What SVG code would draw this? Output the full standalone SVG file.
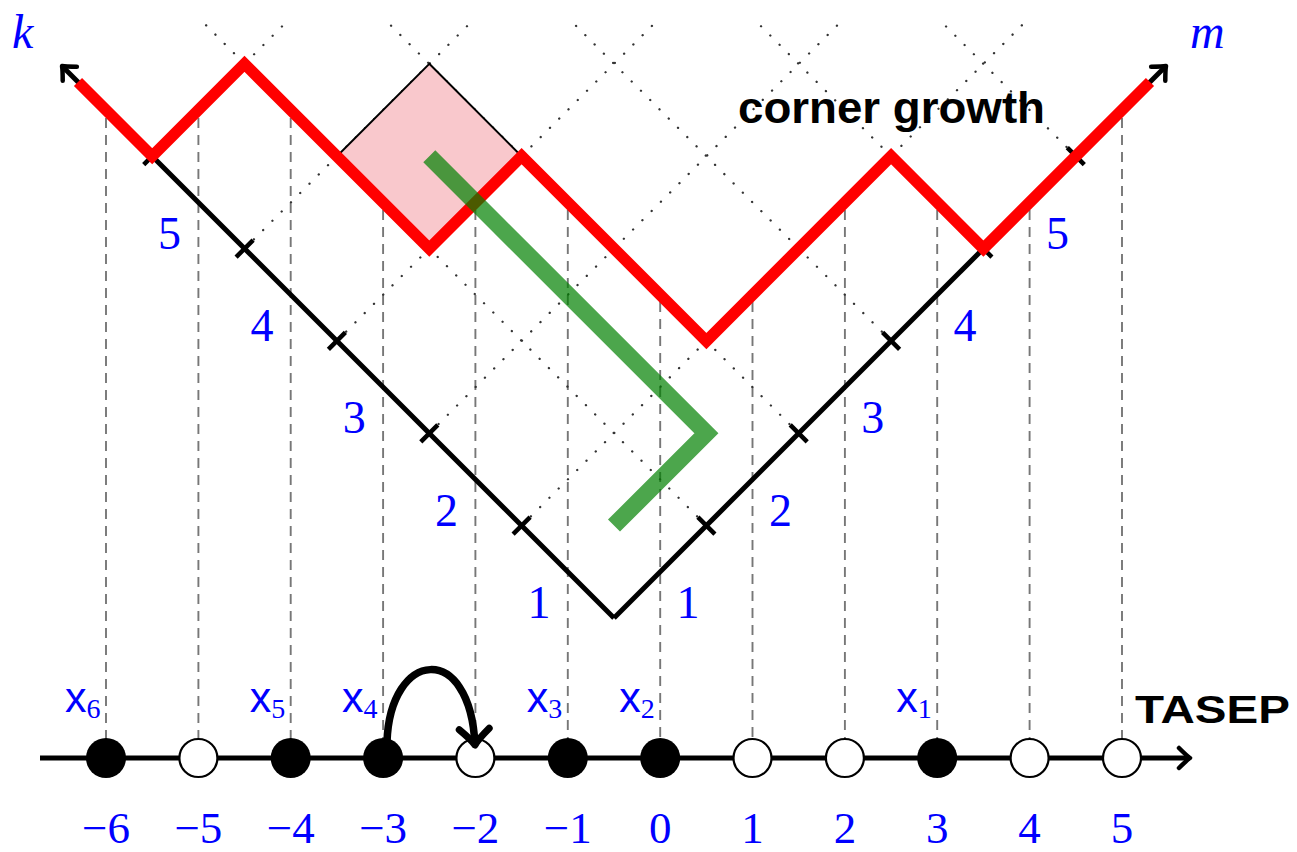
<svg xmlns="http://www.w3.org/2000/svg" width="1297" height="852" viewBox="0 0 1297 852">
<style>
.dash{stroke:#777;stroke-width:1.9;stroke-dasharray:10 7;fill:none}
.dot{stroke:#333;stroke-width:2.3;stroke-dasharray:0.1 13;stroke-linecap:round;fill:none}
.arm{stroke:#000;stroke-width:5;fill:none}
.tick{stroke:#000;stroke-width:4.5;fill:none}
.num{font-family:"Liberation Serif","DejaVu Serif",serif;font-size:46px;fill:#0000ff;text-anchor:middle}
.bnum{font-family:"Liberation Serif","DejaVu Serif",serif;font-size:45px;fill:#0000ff;text-anchor:middle}
.xl{font-family:"Liberation Sans",Arial,sans-serif;font-size:43px;fill:#0000ff}
.sub{font-family:"Liberation Serif","DejaVu Serif",serif;font-size:28px}
.var{font-family:"Liberation Serif","DejaVu Serif",serif;font-style:italic;font-size:48px;fill:#0000ff}
.bold{font-family:"Liberation Sans",Arial,sans-serif;font-weight:bold;fill:#000}
.full{fill:#000}
.empty{fill:#fff;stroke:#000;stroke-width:2.2}
</style>
<defs>
<marker id="ah" viewBox="-16 -16 32 32" markerWidth="32" markerHeight="32" refX="0" refY="0" orient="auto" markerUnits="userSpaceOnUse">
<path d="M-11,-10 Q-3,-2 0,0 Q-3,2 -11,10" fill="none" stroke="#000" stroke-width="4.5" stroke-linecap="round" stroke-linejoin="round"/>
</marker>
<marker id="ah2" viewBox="-24 -24 48 48" markerWidth="48" markerHeight="48" refX="0" refY="0" orient="auto" markerUnits="userSpaceOnUse">
<path d="M-16,-15 Q-5,-3 0,0 Q-5,3 -16,15" fill="none" stroke="#000" stroke-width="7" stroke-linecap="round" stroke-linejoin="round"/>
</marker>
</defs>
<rect width="1297" height="852" fill="#fff"/>

<g id="dashed-guides">
<line class="dash" x1="106" y1="118" x2="106" y2="758"/>
<line class="dash" x1="198.4" y1="118" x2="198.4" y2="758"/>
<line class="dash" x1="290.7" y1="118" x2="290.7" y2="758"/>
<line class="dash" x1="383.1" y1="210" x2="383.1" y2="758"/>
<line class="dash" x1="475.4" y1="210" x2="475.4" y2="758"/>
<line class="dash" x1="567.8" y1="210" x2="567.8" y2="758"/>
<line class="dash" x1="660.2" y1="302" x2="660.2" y2="758"/>
<line class="dash" x1="752.5" y1="302" x2="752.5" y2="758"/>
<line class="dash" x1="844.9" y1="210" x2="844.9" y2="758"/>
<line class="dash" x1="937.2" y1="210" x2="937.2" y2="758"/>
<line class="dash" x1="1029.6" y1="210" x2="1029.6" y2="758"/>
<line class="dash" x1="1122" y1="118" x2="1122" y2="758"/>
</g>

<g id="lattice">
<line class="dot" x1="521.6" y1="525.6" x2="1029.5" y2="17.7"/>
<line class="dot" x1="429.3" y1="433.3" x2="844.9" y2="17.7"/>
<line class="dot" x1="336.9" y1="340.9" x2="660.1" y2="17.7"/>
<line class="dot" x1="244.6" y1="248.6" x2="475.5" y2="17.7"/>
<line class="dot" x1="152.2" y1="156.2" x2="290.7" y2="17.7"/>
<line class="dot" x1="706.4" y1="525.6" x2="198.5" y2="17.7"/>
<line class="dot" x1="798.7" y1="433.3" x2="383.1" y2="17.7"/>
<line class="dot" x1="891.1" y1="340.9" x2="567.9" y2="17.7"/>
<line class="dot" x1="983.4" y1="248.6" x2="752.5" y2="17.7"/>
<line class="dot" x1="1075.8" y1="156.2" x2="937.3" y2="17.7"/>
</g>

<g id="added-box">
<path d="M429.3,63.8 L521.6,156.2 L429.3,248.6 L336.9,156.2 Z" fill="#f9c8cc" stroke="#000" stroke-width="2"/>
</g>

<g id="axes">
<path class="arm" d="M614,618 L62,66" marker-end="url(#ah)"/>
<path class="arm" d="M614,618 L1166,66" marker-end="url(#ah)"/>
<path class="tick" d="M513.1,534.1 L530.1,517.1 M420.8,441.8 L437.8,424.8 M328.4,349.4 L345.4,332.4 M236.1,257.1 L253.1,240.1 M143.7,164.7 L160.7,147.7"/>
<path class="tick" d="M697.9,517.1 L714.9,534.1 M790.2,424.8 L807.2,441.8 M882.6,332.4 L899.6,349.4 M974.9,240.1 L991.9,257.1 M1067.3,147.7 L1084.3,164.7"/>
<text class="var" x="12" y="48">k</text>
<text class="var" x="1190" y="48">m</text>
</g>

<g id="arm-labels">
<text class="num" x="539" y="618">1</text>
<text class="num" x="446.6" y="525.6">2</text>
<text class="num" x="354.3" y="433.3">3</text>
<text class="num" x="261.9" y="340.9">4</text>
<text class="num" x="169.6" y="248.6">5</text>
<text class="num" x="688" y="618">1</text>
<text class="num" x="780.4" y="525.6">2</text>
<text class="num" x="872.7" y="433.3">3</text>
<text class="num" x="965.1" y="340.9">4</text>
<text class="num" x="1057.4" y="248.6">5</text>
</g>

<g id="height-profile">
<path d="M78,82 L152.2,156.2 L244.5,63.8 L429.3,248.6 L521.6,156.2 L706.4,341 L891.1,156.2 L983.4,248.6 L1150,82" fill="none" stroke="#ff0000" stroke-width="11.5" stroke-linejoin="miter" stroke-miterlimit="10"/>
</g>

<g id="green-path">
<path d="M429.3,156.2 L706.4,433.3 L614,525.6" fill="none" stroke="#008000" stroke-opacity="0.7" stroke-width="17" stroke-linejoin="miter"/>
</g>

<g id="corner-growth-label">
<text class="bold" x="738" y="123" font-size="45" textLength="307" lengthAdjust="spacingAndGlyphs">corner growth</text>
</g>

<g id="tasep-axis">
<path d="M40,758 L1190,758" stroke="#000" stroke-width="5" fill="none" marker-end="url(#ah)"/>
<text class="bold" x="1135" y="723" font-size="39" textLength="155" lengthAdjust="spacingAndGlyphs">TASEP</text>
</g>

<g id="sites">
<circle id="site-m6" class="full" cx="106" cy="758" r="20"/>
<circle id="site-m5" class="empty" cx="198.4" cy="758" r="19"/>
<circle id="site-m4" class="full" cx="290.7" cy="758" r="20"/>
<circle id="site-m3" class="full" cx="383.1" cy="758" r="20"/>
<circle id="site-m2" class="empty" cx="475.4" cy="758" r="19"/>
<circle id="site-m1" class="full" cx="567.8" cy="758" r="20"/>
<circle id="site-0" class="full" cx="660.2" cy="758" r="20"/>
<circle id="site-1" class="empty" cx="752.5" cy="758" r="19"/>
<circle id="site-2" class="empty" cx="844.9" cy="758" r="19"/>
<circle id="site-3" class="full" cx="937.2" cy="758" r="20"/>
<circle id="site-4" class="empty" cx="1029.6" cy="758" r="19"/>
<circle id="site-5" class="empty" cx="1122" cy="758" r="19"/>
</g>

<g id="jump">
<path d="M387,742 C390,650 470,640 475,745" fill="none" stroke="#000" stroke-width="7.5" marker-end="url(#ah2)"/>
</g>

<g id="particle-labels">
<text class="xl" x="65" y="712">x<tspan class="sub" dy="6">6</tspan></text>
<text class="xl" x="249.7" y="712">x<tspan class="sub" dy="6">5</tspan></text>
<text class="xl" x="342.1" y="712">x<tspan class="sub" dy="6">4</tspan></text>
<text class="xl" x="526.8" y="712">x<tspan class="sub" dy="6">3</tspan></text>
<text class="xl" x="619.2" y="712">x<tspan class="sub" dy="6">2</tspan></text>
<text class="xl" x="896.2" y="712">x<tspan class="sub" dy="6">1</tspan></text>
</g>

<g id="site-labels">
<text class="bnum" x="106" y="843">−6</text>
<text class="bnum" x="198.4" y="843">−5</text>
<text class="bnum" x="290.7" y="843">−4</text>
<text class="bnum" x="383.1" y="843">−3</text>
<text class="bnum" x="475.4" y="843">−2</text>
<text class="bnum" x="567.8" y="843">−1</text>
<text class="bnum" x="660.2" y="843">0</text>
<text class="bnum" x="752.5" y="843">1</text>
<text class="bnum" x="844.9" y="843">2</text>
<text class="bnum" x="937.2" y="843">3</text>
<text class="bnum" x="1029.6" y="843">4</text>
<text class="bnum" x="1122" y="843">5</text>
</g>
</svg>
